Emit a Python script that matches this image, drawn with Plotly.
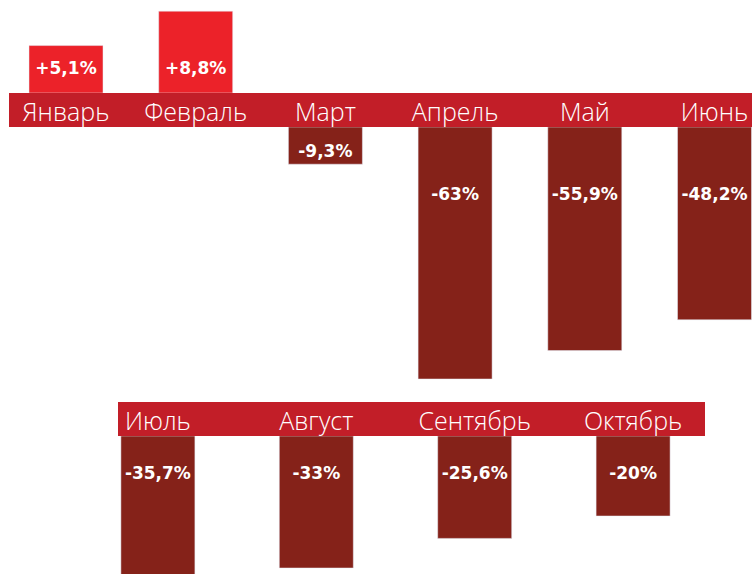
import plotly.graph_objects as go

# ---- data ----
top_months = ["Январь", "Февраль", "Март", "Апрель", "Май", "Июнь"]
top_values = [5.1, 8.8, -9.3, -63.0, -55.9, -48.2]
bottom_months = ["Июль", "Август", "Сентябрь", "Октябрь"]
bottom_values = [-35.7, -33.0, -25.6, -20.0]

# ---- style ----
W, H = 752, 574
POS_COLOR = "#EC2229"
BAND_COLOR = "#C21E28"
NEG_COLOR = "#852219"
POS_PX = 9.3      # px per unit, growth bars
NEG_PX = 4.0      # px per unit, decline bars
LABEL_FONT = dict(family="DejaVu Sans", size=17, color="white", weight=700)
MONTH_FONT = dict(family="Open Sans", size=25, color="white", weight=300)


def fmt(v):
    s = ("+" if v > 0 else "-") + ("%g" % abs(v)).replace(".", ",") + "%"
    return s


def py(p):
    return 1 - p / H


fig = go.Figure()

pos_x = [m for m, v in zip(top_months, top_values) if v > 0]
pos_v = [v for v in top_values if v > 0]
neg_x = [m for m, v in zip(top_months, top_values) if v < 0]
neg_v = [v for v in top_values if v < 0]

TOP_W = 0.5705
BOT_W = 0.4672

fig.add_trace(go.Bar(x=pos_x, y=pos_v, xaxis="x", yaxis="y", marker_color=POS_COLOR,
                     width=TOP_W, hoverinfo="skip"))
fig.add_trace(go.Bar(x=neg_x, y=neg_v, xaxis="x", yaxis="y2", marker_color=NEG_COLOR,
                     width=TOP_W, hoverinfo="skip"))
fig.add_trace(go.Bar(x=bottom_months, y=bottom_values, xaxis="x2", yaxis="y3",
                     marker_color=NEG_COLOR, width=BOT_W, hoverinfo="skip"))

# value labels
fig.add_trace(go.Scatter(x=pos_x, y=[23 / POS_PX] * len(pos_v), text=[fmt(v) for v in pos_v],
                         mode="text", textfont=LABEL_FONT, xaxis="x", yaxis="y",
                         hoverinfo="skip", cliponaxis=False))
fig.add_trace(go.Scatter(x=neg_x, y=[-min(69 / NEG_PX, abs(v) - 11 / NEG_PX) for v in neg_v],
                         text=[fmt(v) for v in neg_v], mode="text", textfont=LABEL_FONT,
                         xaxis="x", yaxis="y2", hoverinfo="skip", cliponaxis=False))
fig.add_trace(go.Scatter(x=bottom_months, y=[-39 / NEG_PX] * len(bottom_values),
                         text=[fmt(v) for v in bottom_values], mode="text", textfont=LABEL_FONT,
                         xaxis="x2", yaxis="y3", hoverinfo="skip", cliponaxis=False))

# bands with month names
shapes = [
    dict(type="rect", xref="paper", yref="paper", x0=9 / W, x1=1, y0=py(127), y1=py(93),
         fillcolor=BAND_COLOR, line_width=0, layer="below"),
    dict(type="rect", xref="paper", yref="paper", x0=118 / W, x1=705 / W, y0=py(436), y1=py(402),
         fillcolor=BAND_COLOR, line_width=0, layer="below"),
]

top_slope, top_off = 129.7, 66
bot_slope, bot_off = 158.4, 157.9

axis_common = dict(showgrid=False, zeroline=False, showline=False, fixedrange=True)

fig.update_layout(
    width=W, height=H, autosize=False,
    margin=dict(l=0, r=0, t=0, b=0),
    paper_bgcolor="white", plot_bgcolor="rgba(0,0,0,0)",
    showlegend=False, barmode="overlay", shapes=shapes,
    xaxis=dict(domain=[0, 1], anchor="y2", side="top", type="category",
               categoryorder="array", categoryarray=top_months,
               range=[-top_off / top_slope, (W - top_off) / top_slope],
               ticks="", tickfont=MONTH_FONT, ticklabelstandoff=0, **axis_common),
    xaxis2=dict(domain=[0, 1], anchor="y3", side="top", type="category",
                categoryorder="array", categoryarray=bottom_months,
                range=[-bot_off / bot_slope, (W - bot_off) / bot_slope],
                ticks="", tickfont=MONTH_FONT, ticklabelstandoff=0, **axis_common),
    yaxis=dict(domain=[py(93), 1], range=[0, 93 / POS_PX], visible=False, **axis_common),
    yaxis2=dict(domain=[py(390), py(127)], range=[-(390 - 127) / NEG_PX, 0], visible=False,
                **axis_common),
    yaxis3=dict(domain=[0, py(436)], range=[-(H - 436) / NEG_PX, 0], visible=False,
                **axis_common),
)

fig.write_html("out.html", config={"displayModeBar": False},
               post_script="document.body.style.margin='0';document.body.style.overflow='hidden';")
